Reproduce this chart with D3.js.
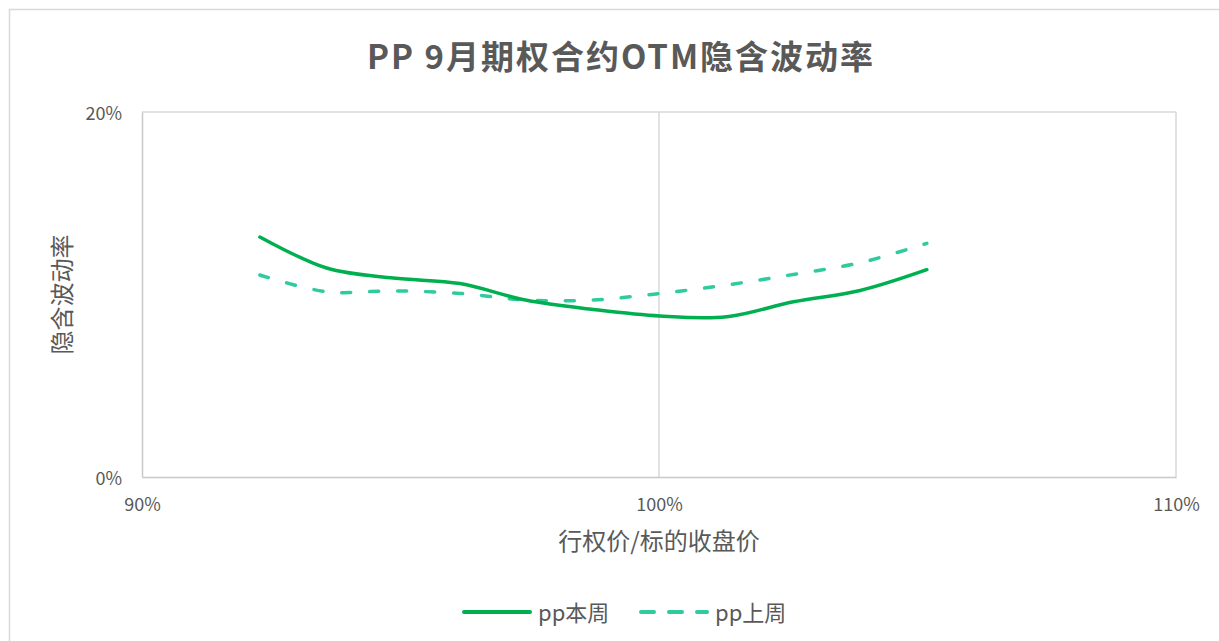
<!DOCTYPE html>
<html>
<head>
<meta charset="utf-8">
<script src="https://cdn.jsdelivr.net/npm/d3@7"></script>
<style>
    body { margin: 0; background: #fff; }
    svg { display: block; font-family: "Noto Sans CJK SC", "Noto Sans", sans-serif; }
</style>
</head>
<body>
<svg id="chart"></svg>
<script>
// strike / underlying close, in %
const moneyness = [92.28, 93.57, 94.86, 96.15, 97.44, 98.73, 100.02, 101.31, 102.60, 103.89, 105.18]
// implied vol, in %
const thisWeek = [13.15, 11.45, 10.90, 10.60, 9.68, 9.18, 8.82, 8.78, 9.60, 10.22, 11.36]
const lastWeek = [11.07, 10.15, 10.20, 10.06, 9.70, 9.70, 10.06, 10.52, 11.10, 11.74, 12.80]
const xTicks = [90, 100, 110]
const yTicks = [0, 20]
const seriesNames = ['pp本周', 'pp上周']

const width = 1219
const height = 641
const margin = { top: 112, right: 43, bottom: 164, left: 142 }

const svg = d3.select('#chart')
    .attr('width', width)
    .attr('height', height)

// chart border
svg.append('rect')
    .attr('x', 9.5)
    .attr('y', 9.5)
    .attr('width', width + 20)
    .attr('height', height + 20)
    .attr('fill', 'none')
    .attr('stroke', '#d9d9d9')
    .attr('stroke-width', 1.5)

const x = d3.scaleLinear()
    .domain([90, 110])
    .range([margin.left, width - margin.right])

const y = d3.scaleLinear()
    .domain([0, 20])
    .range([height - margin.bottom, margin.top])

// gridlines
svg.append('g')
    .selectAll('line.vgrid')
    .data(xTicks.slice(1))
    .join('line')
    .attr('x1', d => x(d))
    .attr('x2', d => x(d))
    .attr('y1', y(0))
    .attr('y2', y(20))
    .attr('stroke', '#d9d9d9')
    .attr('stroke-width', 1.5)

svg.append('g')
    .selectAll('line.hgrid')
    .data(yTicks.slice(1))
    .join('line')
    .attr('x1', x(90))
    .attr('x2', x(110))
    .attr('y1', d => y(d))
    .attr('y2', d => y(d))
    .attr('stroke', '#d9d9d9')
    .attr('stroke-width', 1.5)

// axes
const xAxis = svg.append('g')
    .attr('transform', `translate(0,${y(0)})`)
    .call(d3.axisBottom(x).tickValues(xTicks).tickSize(0).tickPadding(25).tickFormat(d => d + '%'))

const yAxis = svg.append('g')
    .attr('transform', `translate(${x(90)},0)`)
    .call(d3.axisLeft(y).tickValues(yTicks).tickSize(0).tickPadding(20).tickFormat(d => d + '%'))

for (const axis of [xAxis, yAxis])
{
    axis.select('.domain').attr('stroke', '#c8c8c8').attr('stroke-width', 1.5)
    axis.selectAll('text')
        .attr('fill', '#595959')
        .style('font-size', '18px')
        .style('font-family', '"Noto Sans CJK SC", sans-serif')
}
yAxis.selectAll('text').attr('dy', '0.4em')
xAxis.selectAll('text').attr('dy', '0.5em')

// lines
const line = (values) => d3.line()
    .x((d, i) => x(moneyness[i]))
    .y(d => y(d))
    .curve(d3.curveCatmullRom.alpha(0.5))(values)

svg.append('path')
    .attr('d', line(lastWeek))
    .attr('fill', 'none')
    .attr('stroke', '#2fcb9f')
    .attr('stroke-width', 3.5)
    .attr('stroke-linecap', 'round')
    .attr('stroke-dasharray', '9 19')

svg.append('path')
    .attr('d', line(thisWeek))
    .attr('fill', 'none')
    .attr('stroke', '#00b050')
    .attr('stroke-width', 3.5)
    .attr('stroke-linecap', 'round')

// title
svg.append('text')
    .attr('x', 621)
    .attr('y', 69)
    .attr('text-anchor', 'middle')
    .attr('fill', '#595959')
    .style('font-size', '33px')
    .style('font-weight', 'bold')
    .style('letter-spacing', '2px')
    .text('PP  9月期权合约OTM隐含波动率')

// axis titles
svg.append('text')
    .attr('x', x(100))
    .attr('y', 550)
    .attr('text-anchor', 'middle')
    .attr('fill', '#595959')
    .style('font-size', '24px')
    .text('行权价/标的收盘价')

svg.append('text')
    .attr('transform', `translate(71,${(y(0) + y(20)) / 2}) rotate(-90)`)
    .attr('text-anchor', 'middle')
    .attr('fill', '#595959')
    .style('font-size', '24px')
    .text('隐含波动率')

// legend
const legend = svg.append('g')
    .attr('transform', 'translate(462,612)')

const legendItems = [
    { name: seriesNames[0], color: '#00b050', dash: null, dx: 0 },
    { name: seriesNames[1], color: '#2fcb9f', dash: '13 15', dx: 177 }
]

legend.selectAll('line')
    .data(legendItems)
    .join('line')
    .attr('x1', d => d.dx + 2)
    .attr('x2', d => d.dx + 68)
    .attr('y1', 0)
    .attr('y2', 0)
    .attr('stroke', d => d.color)
    .attr('stroke-width', 4)
    .attr('stroke-linecap', 'round')
    .attr('stroke-dasharray', d => d.dash)

legend.selectAll('text')
    .data(legendItems)
    .join('text')
    .attr('x', d => d.dx + 76)
    .attr('y', 9)
    .attr('fill', '#595959')
    .style('font-size', '22px')
    .text(d => d.name)
</script>
</body>
</html>
